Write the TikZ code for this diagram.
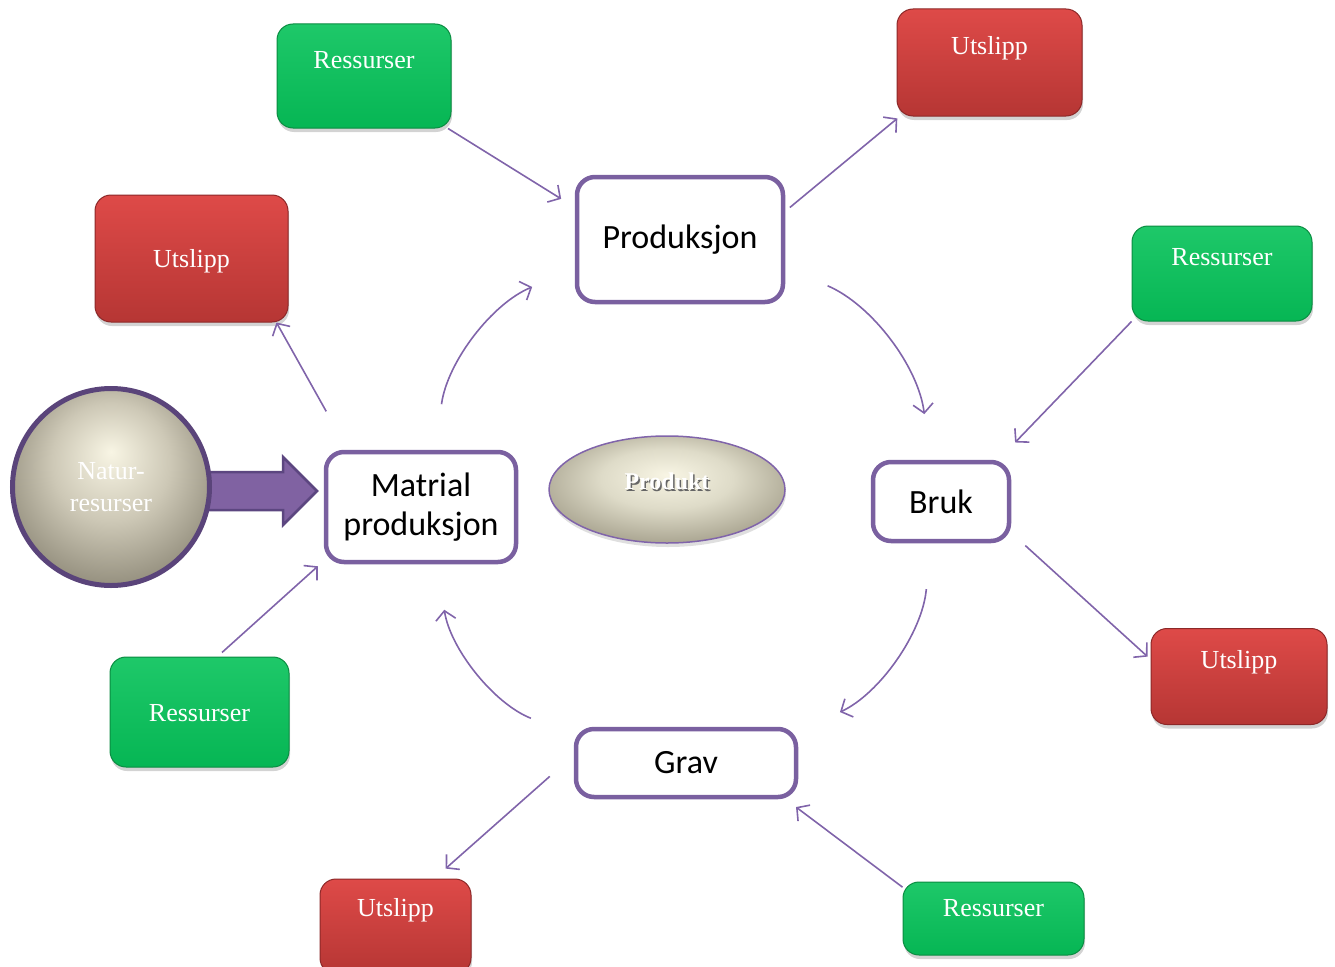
\documentclass[tikz,border=0pt]{standalone}
\usepackage{fontspec}
\setmainfont{Liberation Serif}
\newfontfamily\calfont{Carlito}
\usepackage{tikz}
\usetikzlibrary{positioning,shapes,shadows,arrows.meta,backgrounds,calc}

\definecolor{stagepurple}{RGB}{122,96,160}
\definecolor{linkpurple}{RGB}{128,100,170}
\definecolor{arrowfill}{RGB}{128,98,162}
\definecolor{arrowedge}{RGB}{92,70,128}
\definecolor{greentop}{RGB}{30,200,105}
\definecolor{greenbot}{RGB}{6,182,84}
\definecolor{greenedge}{RGB}{10,140,65}
\definecolor{redtop}{RGB}{222,74,72}
\definecolor{redbot}{RGB}{182,54,52}
\definecolor{rededge}{RGB}{140,40,40}
\definecolor{stonelight}{RGB}{248,245,228}
\definecolor{stonemid}{RGB}{205,200,182}
\definecolor{stonedark}{RGB}{140,135,118}
\definecolor{pebblemid}{RGB}{222,219,200}
\definecolor{pebbledark}{RGB}{160,155,135}
\definecolor{circleedge}{RGB}{90,68,122}

\pgfdeclareradialshading{stone}{\pgfpoint{0bp}{9bp}}{color(0bp)=(stonelight); color(15bp)=(stonemid); color(31bp)=(stonedark); color(50bp)=(stonedark)}
\pgfdeclareradialshading{pebble}{\pgfpoint{0bp}{7bp}}{color(0bp)=(stonelight); color(14bp)=(pebblemid); color(31bp)=(pebbledark); color(50bp)=(pebbledark)}

\newcommand{\boxtext}[2][8pt]{\raisebox{#1}[0pt][0pt]{#2}}
\newcommand{\shadowtext}[1]{\makebox[0pt][l]{\hspace{1.5pt}\raisebox{-1.5pt}{\color{black!60}#1}}#1}

\tikzset{
  stage/.style={draw=stagepurple, line width=4.5pt, fill=white, rounded corners=18pt,
    font=\calfont\fontsize{34}{39}\selectfont, align=center, inner sep=0pt},
  colorbox/.style={rounded corners=16pt, line width=1pt, font=\fontsize{26}{30}\selectfont,
    text=white, text height=0pt, text depth=0pt, inner sep=0pt,
    drop shadow={shadow xshift=1pt, shadow yshift=-4pt, opacity=0.35}},
  ressbox/.style={colorbox, draw=greenedge, top color=greentop, bottom color=greenbot},
  utsbox/.style={colorbox, draw=rededge, top color=redtop, bottom color=redbot},
  link/.style={draw=linkpurple, line width=1.6pt, -{Straight Barb[length=9pt,width=20pt]}},
  roundlink/.style={link, shorten <=46pt, shorten >=46pt},
  fatarrow/.style={fill=arrowfill, draw=arrowedge, line width=2.5pt, line join=miter}
}

\begin{document}
\begin{tikzpicture}[x=1pt, y=-1pt]
    \useasboundingbox (0,0) rectangle (1335,966);

    % the life cycle
    \node[stage, minimum width=206pt, minimum height=125pt] (prod) at (680,239.5) {Produksjon};
    \node[stage, minimum width=190pt, minimum height=110pt] (mat) at (421,507) {Matrial\\produksjon};
    \node[stage, minimum width=136pt, minimum height=79pt] (bruk) at (941,501.5) {Bruk};
    \node[stage, minimum width=220pt, minimum height=68pt] (grav) at (686,763) {Grav};

    \node[ellipse, draw=linkpurple, line width=1.5pt, minimum width=236pt, minimum height=107pt,
        shading=pebble, text=white, text height=0pt, text depth=0pt,
        font=\bfseries\fontsize{24}{28}\selectfont,
        drop shadow={shadow xshift=1pt, shadow yshift=-4pt, opacity=0.25}] (produkt) at (667,489.5)
        {\boxtext[0pt]{\shadowtext{Produkt}}};

    \node[circle, draw=circleedge, line width=5pt, minimum size=197pt, shading=stone,
        text=white, align=center, font=\fontsize{26}{32}\selectfont] (natur)
        at (111,487) {Natur-\\resurser};

    % ressurser and utslipp
    \node[ressbox, minimum width=174pt, minimum height=104pt] (ress1) at (364,76) {\boxtext{Ressurser}};
    \node[utsbox, minimum width=185pt, minimum height=107pt] (uts1) at (989.5,62.5) {\boxtext{Utslipp}};
    \node[utsbox, minimum width=193pt, minimum height=127pt] (uts2) at (191.5,258.5) {\boxtext[-9pt]{Utslipp}};
    \node[ressbox, minimum width=180pt, minimum height=95pt] (ress2) at (1222,273.5) {\boxtext{Ressurser}};
    \node[utsbox, minimum width=176pt, minimum height=96pt] (uts3) at (1239,676.5) {\boxtext{Utslipp}};
    \node[ressbox, minimum width=179pt, minimum height=110pt] (ress3) at (199.5,712) {\boxtext[-9pt]{Ressurser}};
    \node[utsbox, minimum width=151pt, minimum height=95pt] (uts4) at (395.5,926.5) {\boxtext[10pt]{Utslipp}};
    \node[ressbox, minimum width=181pt, minimum height=73pt] (ress4) at (993.5,918.5) {\boxtext[2pt]{Ressurser}};

    \begin{scope}[on background layer]
        \draw[fatarrow] ($(natur.east)+(-10,-15)$) -- ++(81,0) -- ++(0,-15) -- ++(34,34)
            -- ++(-34,34) -- ++(0,-15) -- ++(-81,0) -- cycle;
    \end{scope}

    \draw[roundlink] (prod) to[bend left=30] (bruk);
    \draw[roundlink] (bruk) to[bend left=30] (grav);
    \draw[roundlink] (grav) to[bend left=30] (mat);
    \draw[roundlink] (mat) to[bend left=30] (prod);

    \draw[link, shorten >=16pt] (ress1.-32) -- (prod.163);
    \draw[link, shorten <=6pt, shorten >=3pt] (prod.15) -- (uts1.-149);
    \draw[link, shorten >=24pt] (ress2.south west) -- (bruk.36);
    \draw[link, shorten <=19pt, shorten >=4pt] (bruk.-24) -- (uts3.169);
    \draw[link, shorten >=13pt] (ress4.161) -- (grav.-20);
    \draw[link, shorten <=32pt, shorten >=15pt] (grav.176) -- (uts4.51);
    \draw[link, shorten <=6pt, shorten >=8pt] (ress3.72) -- (mat.-151);
    \draw[link, shorten <=44pt] (mat.142) -- (uts2.-37);
\end{tikzpicture}
\end{document}
